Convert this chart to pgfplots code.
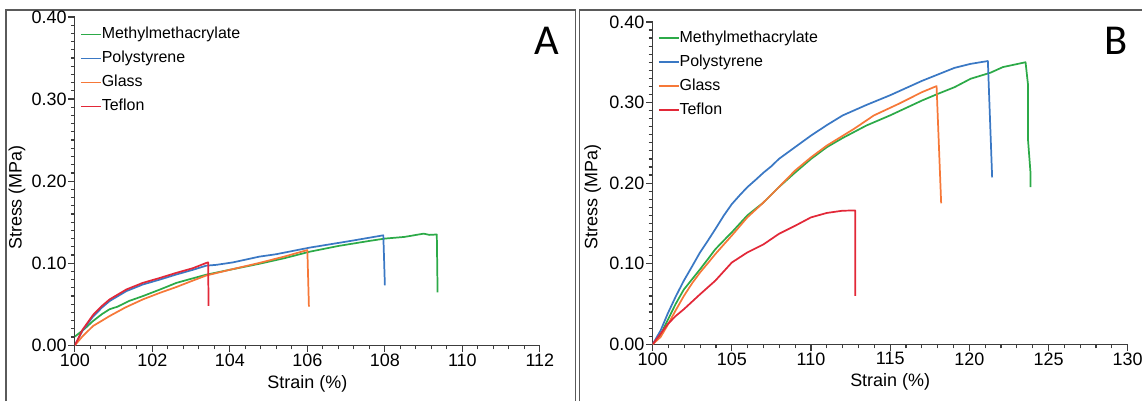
\documentclass[border=0pt]{standalone}
\usepackage{pgfplots}
\pgfplotsset{compat=1.18}
\usepackage{fontspec}
\setmainfont{Liberation Sans}
\newfontfamily\letterfont{Carlito}

\definecolor{cmma}{RGB}{44,170,72}
\definecolor{cps}{RGB}{58,120,196}
\definecolor{cgl}{RGB}{246,120,56}
\definecolor{cte}{RGB}{226,40,56}
\definecolor{fgray}{RGB}{90,90,90}
\definecolor{agray}{RGB}{60,60,60}

\pgfplotsset{
  legend image code/.code={\draw[#1, line width=1.3pt] (0pt,0pt) -- (15pt,0pt);},
  every axis plot/.append style={line width=1.3pt, line join=round},
}

\begin{document}
\begin{tikzpicture}
\path (0,0) rectangle (858pt,301.5pt);
\draw[fgray, line width=0.9pt] (4.5pt,0pt) -- (4.5pt,294pt) -- (432.75pt,294pt) -- (432.75pt,0pt);
\draw[fgray, line width=0.9pt] (435.75pt,0pt) -- (435.75pt,294pt) -- (858pt,294pt);

% Panel A
\begin{axis}[width=349.5pt, height=246.75pt, scale only axis, anchor=south west, at={(56.25pt,42pt)},
  axis lines=left, axis line style={-, agray, line width=0.9pt}, tick align=outside,
  major tick length=5pt, minor tick length=3pt, tick style={agray, line width=0.9pt},
  xmin=100, xmax=112, xtick={100,102,...,112}, minor x tick num=4,
  ymin=0, ymax=0.4, ytick={0,0.1,...,0.4}, minor y tick num=9,
  yticklabel style={/pgf/number format/.cd, fixed, fixed zerofill, precision=2},
  /pgf/number format/assume math mode=true,
  ticklabel style={font=\fontsize{13.5}{16}\selectfont, inner sep=1pt},
  xlabel={Strain (\%)}, ylabel={Stress (MPa)},
  xlabel style={font=\fontsize{13.5}{16}\selectfont, at={(axis description cs:0.5,0)}, anchor=center, yshift=-29pt},
  ylabel style={font=\fontsize{13.5}{16}\selectfont, at={(axis description cs:0,0.45)}, anchor=center, yshift=43.5pt},
  legend cell align=left,
  legend style={draw=none, fill=none, inner sep=0pt, font=\fontsize{12}{14}\selectfont, row sep=6pt,
    nodes={inner sep=0pt, text height=9pt, text depth=3pt},
    /tikz/every even column/.append style={column sep=1pt},
    at={(axis description cs:0,1)}, anchor=north west, xshift=3.75pt, yshift=-7pt},
]
\addplot[cmma] coordinates {
(100.00,0.0106)(100.25,0.020)(100.47,0.0296)(100.70,0.038)(100.90,0.044)(101.10,0.047)
(101.40,0.054)(101.76,0.060)(102.20,0.068)(102.62,0.076)(103.00,0.081)(103.39,0.086)
(104.00,0.092)(104.73,0.099)(105.40,0.106)(106.06,0.114)(106.80,0.121)(107.58,0.127)
(108.00,0.130)(108.50,0.132)(109.00,0.136)(109.15,0.1345)(109.34,0.135)(109.36,0.0645)};
\addlegendentry{Methylmethacrylate}
\addplot[cps] coordinates {
(100.00,0.000)(100.20,0.018)(100.47,0.035)(100.70,0.046)(100.90,0.054)(101.33,0.066)
(101.75,0.074)(102.19,0.080)(102.60,0.086)(103.05,0.092)(103.39,0.097)(103.65,0.098)
(104.08,0.101)(104.76,0.108)(105.20,0.111)(106.06,0.119)(107.10,0.127)(107.96,0.134)(108.00,0.073)};
\addlegendentry{Polystyrene}
\addplot[cgl] coordinates {
(100.00,0.000)(100.20,0.011)(100.47,0.0235)(100.70,0.030)(100.90,0.0357)(101.30,0.046)
(101.76,0.056)(102.20,0.064)(102.62,0.071)(103.00,0.078)(103.39,0.085)(104.00,0.092)
(104.73,0.100)(105.40,0.108)(106.00,0.116)(106.04,0.047)};
\addlegendentry{Glass}
\addplot[cte] coordinates {
(100.00,0.000)(100.20,0.019)(100.47,0.037)(100.70,0.048)(100.90,0.056)(101.33,0.068)
(101.75,0.076)(102.19,0.082)(102.60,0.088)(103.05,0.094)(103.40,0.1005)(103.44,0.101)(103.45,0.048)};
\addlegendentry{Teflon}
\end{axis}
\node[font=\letterfont\fontsize{32}{36}\selectfont] at (411pt,270.75pt) {A};

% Panel B
\begin{axis}[width=357pt, height=242.25pt, scale only axis, anchor=south west, at={(490.5pt,42.75pt)},
  axis lines=left, axis line style={-, agray, line width=0.9pt}, tick align=outside,
  major tick length=5pt, minor tick length=3pt, tick style={agray, line width=0.9pt},
  xmin=100, xmax=130, xtick={100,105,...,130}, minor x tick num=4,
  ymin=0, ymax=0.4, ytick={0,0.1,...,0.4}, minor y tick num=9,
  yticklabel style={/pgf/number format/.cd, fixed, fixed zerofill, precision=2},
  /pgf/number format/assume math mode=true,
  ticklabel style={font=\fontsize{13.5}{16}\selectfont, inner sep=1pt},
  xlabel={Strain (\%)}, ylabel={Stress (MPa)},
  xlabel style={font=\fontsize{13.5}{16}\selectfont, at={(axis description cs:0.5,0)}, anchor=center, yshift=-28pt},
  ylabel style={font=\fontsize{13.5}{16}\selectfont, at={(axis description cs:0,0.458)}, anchor=center, yshift=45pt},
  legend cell align=left,
  legend style={draw=none, fill=none, inner sep=0pt, font=\fontsize{12}{14}\selectfont, row sep=6pt,
    nodes={inner sep=0pt, text height=9pt, text depth=3pt},
    /tikz/every even column/.append style={column sep=1pt},
    at={(axis description cs:0,1)}, anchor=north west, xshift=3.75pt, yshift=-6pt},
]
\addplot[cmma] coordinates {
(100.00,0.000)(100.50,0.012)(100.95,0.030)(101.45,0.050)(101.97,0.068)(102.50,0.081)
(102.99,0.093)(103.50,0.106)(103.96,0.118)(104.50,0.129)(105.00,0.139)(105.98,0.160)
(107.00,0.176)(107.97,0.195)(108.99,0.213)(110.00,0.230)(111.00,0.2446)
(112.00,0.256)(113.50,0.2715)(114.99,0.284)(117.02,0.3026)(118.04,0.311)(119.06,0.319)
(120.08,0.3295)(121.33,0.337)(122.12,0.344)(123.55,0.350)(123.70,0.323)(123.70,0.255)
(123.86,0.2135)(123.86,0.195)};
\addlegendentry{Methylmethacrylate}
\addplot[cps] coordinates {
(100.00,0.000)(100.50,0.017)(100.95,0.038)(101.45,0.059)(101.97,0.079)(102.50,0.097)
(102.99,0.114)(103.50,0.129)(103.96,0.143)(104.50,0.160)(105.00,0.174)(105.50,0.185)
(105.98,0.195)(106.50,0.204)(107.00,0.213)(107.50,0.221)(107.97,0.230)(108.99,0.2446)
(110.00,0.259)(111.00,0.272)(112.00,0.284)(113.50,0.297)(114.99,0.309)(117.02,0.327)
(119.06,0.343)(120.08,0.348)(121.17,0.3515)(121.44,0.207)};
\addlegendentry{Polystyrene}
\addplot[cgl] coordinates {
(100.00,0.000)(100.50,0.009)(100.95,0.024)(101.45,0.042)(101.97,0.060)(102.50,0.076)
(102.99,0.089)(103.50,0.101)(103.96,0.112)(104.50,0.124)(105.00,0.135)(105.98,0.1575)
(107.00,0.176)(107.97,0.195)(108.99,0.2155)(110.00,0.232)(111.00,0.2466)
(112.72,0.2674)(113.97,0.284)(115.55,0.2985)(117.02,0.313)(117.93,0.3204)(118.22,0.175)};
\addlegendentry{Glass}
\addplot[cte] coordinates {
(100.00,0.000)(100.50,0.013)(100.95,0.025)(101.45,0.035)(101.97,0.0435)(102.99,0.062)
(103.96,0.079)(105.00,0.1015)(105.98,0.114)(107.00,0.124)(107.97,0.137)(108.99,0.147)
(110.00,0.1575)(111.00,0.163)(112.00,0.1658)(112.79,0.166)(112.80,0.060)};
\addlegendentry{Teflon}
\end{axis}
\node[font=\letterfont\fontsize{32}{36}\selectfont] at (838.5pt,270.75pt) {B};
\end{tikzpicture}
\end{document}
